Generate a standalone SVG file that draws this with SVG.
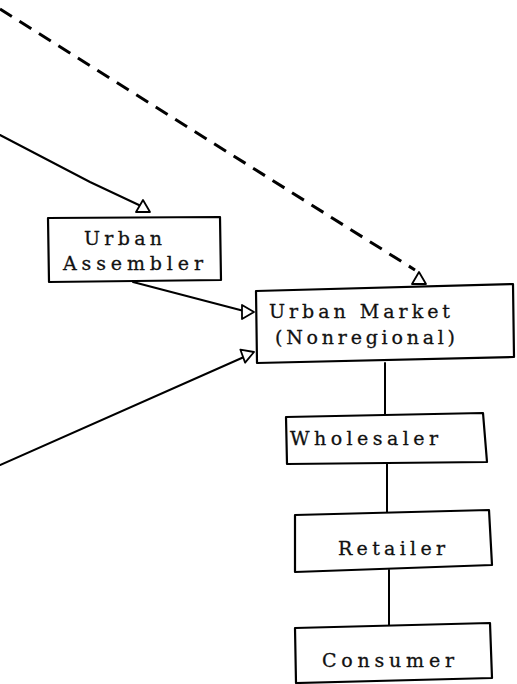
<svg xmlns="http://www.w3.org/2000/svg" xmlns:xlink="http://www.w3.org/1999/xlink" width="517" height="684" viewBox="0 0 517 684">
<style>
.box{fill:#fff;stroke:#000;stroke-width:2.2;stroke-linejoin:round}
.lbl{font-family:"DejaVu Serif","Liberation Serif",serif;font-size:19px;fill:#111;stroke:#111;stroke-width:0.3}
.ln{fill:none;stroke:#000;stroke-width:2;stroke-linecap:round}
.dash{fill:none;stroke:#000;stroke-width:3;stroke-dasharray:14 9}
.ah{fill:#fff;stroke:#000;stroke-width:1.8;stroke-linejoin:round}
</style>
<defs>
<path id="ah" d="M0,0 L7,12 L-7,12 Z"/>
</defs>
<rect width="517" height="684" fill="#fff"/>
<g id="connectors">
<path class="dash" d="M0,9 L415,270"/>
<path class="ln" d="M0,135 L90,182 L141,206"/>
<path class="ln" d="M133,282 L244,311"/>
<path class="ln" d="M0,465 L244,357" stroke-width="2.8"/>
<path class="ln" d="M385,363 L385,415"/>
<path class="ln" d="M387,463 L387,512"/>
<path class="ln" d="M389,570 L389,626"/>
<use xlink:href="#ah" class="ah" transform="translate(143,200)"/>
<use xlink:href="#ah" class="ah" transform="translate(419,272)"/>
<use xlink:href="#ah" class="ah" transform="translate(254,312) rotate(90)"/>
<use xlink:href="#ah" class="ah" transform="translate(254,352) rotate(70)"/>
</g>
<g id="urban-assembler">
<polygon class="box" points="48,218 220,217 221,280 49,282"/>
<text class="lbl" x="84" y="245" textLength="78" lengthAdjust="spacing">Urban</text>
<text class="lbl" x="63" y="270" textLength="140" lengthAdjust="spacing">Assembler</text>
</g>
<g id="urban-market">
<polygon class="box" points="256,291 513,284 514,357 257,363"/>
<text class="lbl" x="269" y="318" textLength="181" lengthAdjust="spacing">Urban Market</text>
<text class="lbl" x="275" y="344" textLength="180" lengthAdjust="spacing">(Nonregional)</text>
</g>
<g id="wholesaler">
<polygon class="box" points="286,417 483,413 487,462 287,464"/>
<text class="lbl" x="290" y="445" textLength="148" lengthAdjust="spacing">Wholesaler</text>
</g>
<g id="retailer">
<polygon class="box" points="295,515 489,510 492,565 295,572"/>
<text class="lbl" x="338" y="555" textLength="107" lengthAdjust="spacing">Retailer</text>
</g>
<g id="consumer">
<polygon class="box" points="295,628 490,623 492,678 296,683"/>
<text class="lbl" x="322" y="667" textLength="132" lengthAdjust="spacing">Consumer</text>
</g>
</svg>
